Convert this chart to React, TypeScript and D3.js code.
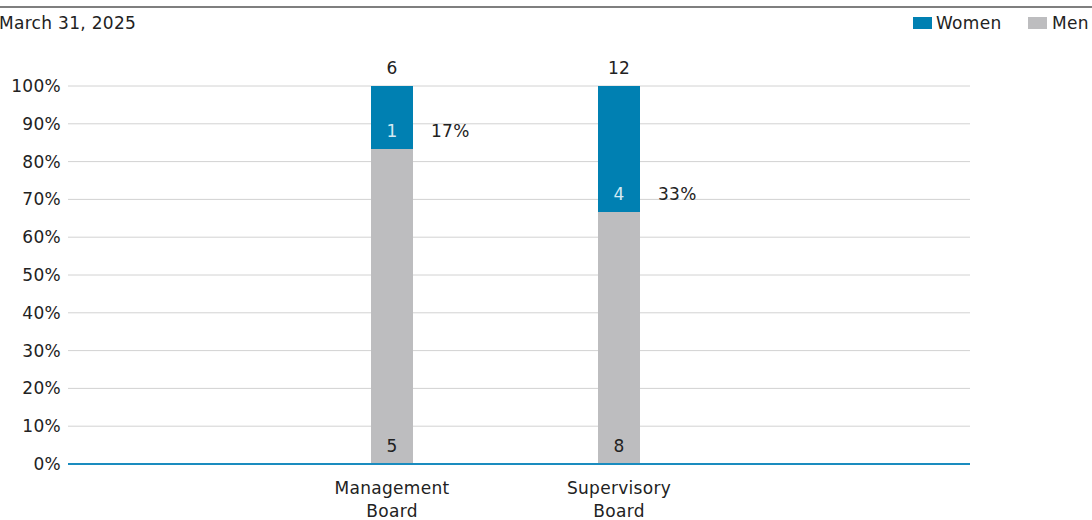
import React from "react";
import * as d3 from "d3";

const categories = ["Management Board", "Supervisory Board"];
const categoryLines = [["Management", "Board"], ["Supervisory", "Board"]];
const women = [1, 4];
const men = [5, 8];
const totals = [6, 12];
const womenShareLabels = ["17%", "33%"];
const yTicks = [0, 10, 20, 30, 40, 50, 60, 70, 80, 90, 100];

const W = 1092;
const H = 520;
const FONT = "'DejaVu Sans', 'Noto Sans', sans-serif";
const FS = 17;
const LS = 0.3;

export default function App() {
  const left = 68, right = 970, top = 86, bottom = 464;
  const y = d3.scaleLinear().domain([0, 100]).range([bottom, top]);
  const barW = 42;
  const centers = [392, 619];
  const xPos = d3.scaleOrdinal<string, number>().domain(categories).range(centers);

  const txt = { fontSize: FS, fill: "#222", letterSpacing: LS } as const;

  return (
    <svg width={W} height={H} style={{ position: "absolute", left: 0, top: 0, fontFamily: FONT }}>
      <line x1={0} x2={W} y1={7} y2={7} stroke="#555" strokeWidth={1.5} />
      <text x={-1} y={29} {...txt}>March 31, 2025</text>
      <rect x={913} y={17} width={19} height={12} fill="#0080b2" />
      <text x={936} y={29} {...txt}>Women</text>
      <rect x={1028} y={17} width={19} height={12} fill="#bdbdbf" />
      <text x={1052} y={29} {...txt}>Men</text>

      {yTicks.map((t) => (
        <g key={t}>
          <line x1={left} x2={right} y1={y(t)} y2={y(t)} stroke="#d2d2d2" strokeWidth={1} />
          <text x={61} y={y(t)} dy="0.35em" {...txt} textAnchor="end">{t}%</text>
        </g>
      ))}

      {categories.map((c, i) => {
        const cx = xPos(c);
        const total = women[i] + men[i];
        const menPct = (men[i] / total) * 100;
        const womenPct = (women[i] / total) * 100;
        const yMen = y(menPct);
        const yTop = y(menPct + womenPct);
        return (
          <g key={c}>
            <rect x={cx - barW / 2} y={yMen} width={barW} height={bottom - yMen} fill="#bdbdbf" />
            <rect x={cx - barW / 2} y={yTop} width={barW} height={yMen - yTop} fill="#0080b2" />
            <text x={cx} y={yTop - 18} dy="0.35em" {...txt} textAnchor="middle">{totals[i]}</text>
            <text x={cx} y={yMen - 18} dy="0.35em" {...txt} fill="#d4eaf3" textAnchor="middle">{women[i]}</text>
            <text x={cx + barW / 2 + 18} y={yMen - 18} dy="0.35em" {...txt}>{womenShareLabels[i]}</text>
            <text x={cx} y={bottom - 18} dy="0.35em" {...txt} textAnchor="middle">{men[i]}</text>
            {categoryLines[i].map((l, j) => (
              <text key={j} x={cx} y={494 + j * 23} {...txt} textAnchor="middle">{l}</text>
            ))}
          </g>
        );
      })}

      <line x1={left} x2={right} y1={bottom} y2={bottom} stroke="#1a8cbf" strokeWidth={2} />
    </svg>
  );
}
